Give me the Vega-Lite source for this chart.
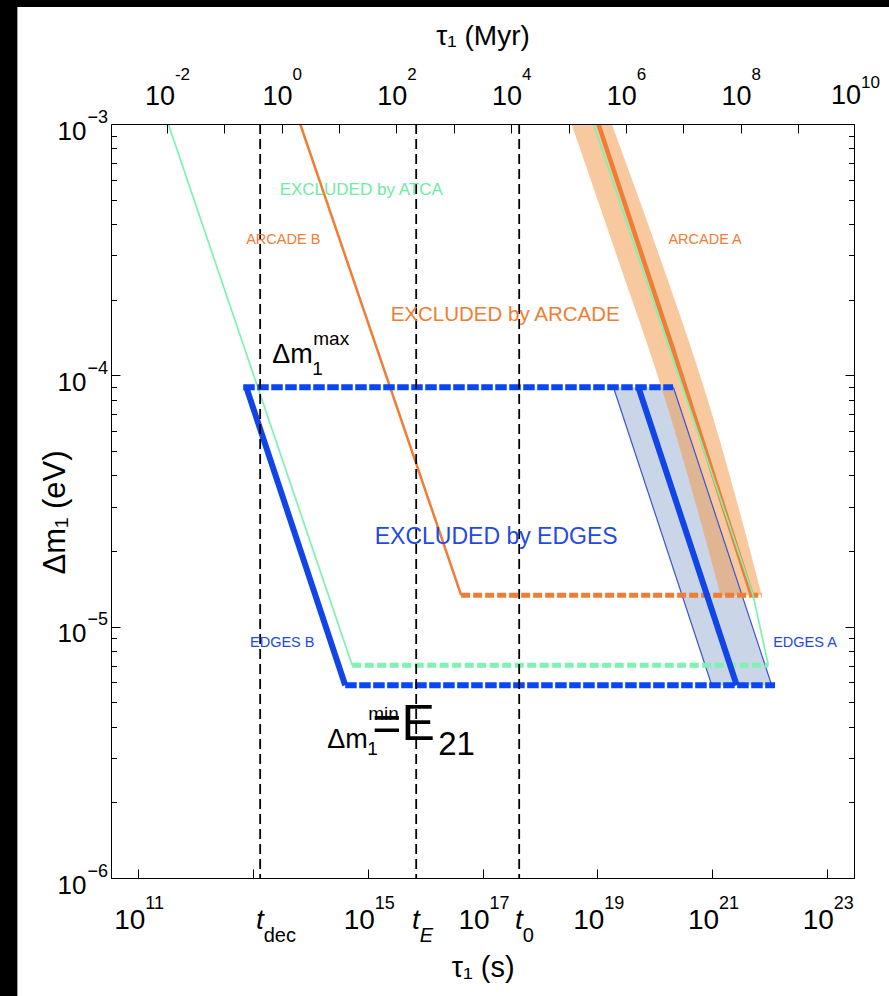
{
  "$schema": "https://vega.github.io/schema/vega-lite/v6.json",
  "width": 743,
  "height": 754,
  "autosize": {"type": "none"},
  "padding": {"left": 111, "top": 124, "right": 35, "bottom": 118},
  "background": "black",
  "config": {
    "view": {"stroke": null},
    "font": "Liberation Sans",
    "axis": {"grid": false, "zindex": 1, "labelOverlap": false, "labelFlush": false, "labelBound": false, "domainColor": "black", "tickColor": "black", "labelColor": "black", "titleColor": "black", "titleFontWeight": "normal", "tickWidth": 1, "domainWidth": 1, "labelFont": "Liberation Sans", "titleFont": "Liberation Sans"}
  },
  "datasets": {
    "solidBlue": [
      {"s": "L", "x": 7.621e12, "y": 8.97e-5}, {"s": "L", "x": 4.036e14, "y": 5.85e-6},
      {"s": "R", "x": 5.2e19, "y": 8.97e-5}, {"s": "R", "x": 2.692e21, "y": 5.85e-6}
    ],
    "dashedBlue": [
      {"s": "top", "x": 6.745e12, "y": 8.97e-5}, {"s": "top", "x": 2.094e20, "y": 8.97e-5},
      {"s": "bot", "x": 4.036e14, "y": 5.85e-6}, {"s": "bot", "x": 1.253e22, "y": 5.85e-6}
    ],
    "dashedOrange": [{"x": 4.236e16, "y": 1.334e-5}, {"x": 7.345e21, "y": 1.334e-5}],
    "dashedGreen": [{"x": 5.346e14, "y": 7.02e-6}, {"x": 9.572e21, "y": 7.02e-6}],
    "orangeLeft": [{"x": 6.637e13, "y": 1e-3}, {"x": 4.236e16, "y": 1.334e-5}],
    "orangeRight": [{"x": 1.045e19, "y": 1e-3}, {"x": 2.118e20, "y": 1.2598e-4}, {"x": 4.92e21, "y": 1.334e-5}],
    "green": [
      {"s": "L", "x": 3.334e11, "y": 1e-3}, {"s": "L", "x": 5.346e14, "y": 7.02e-6},
      {"s": "R", "x": 8.551e18, "y": 1e-3}, {"s": "R", "x": 1.854e20, "y": 1.2598e-4},
      {"s": "R", "x": 5.2e21, "y": 1.334e-5}, {"s": "R", "x": 9.572e21, "y": 7.02e-6}
    ],
    "blueBand": [
      {"y": 8.97e-5, "xl": 1.91e19, "xr": 2.118e20},
      {"y": 5.85e-6, "xl": 9.886e20, "xr": 1.096e22}
    ],
    "bandEdges": [
      {"s": "L", "x": 1.91e19, "y": 8.97e-5}, {"s": "L", "x": 9.886e20, "y": 5.85e-6},
      {"s": "R", "x": 2.118e20, "y": 8.97e-5}, {"s": "R", "x": 1.096e22, "y": 5.85e-6}
    ],
    "orangeBand": [
      {"y": 1.05e-3, "xl": 3.3e18, "xr": 1.65e19},
      {"y": 3.15e-4, "xl": 2.018e19, "xr": 1.109e20},
      {"y": 9.31e-5, "xl": 1.242e20, "xr": 6.823e20},
      {"y": 1.334e-5, "xl": 1.406e21, "xr": 7.345e21}
    ],
    "epochs": [{"x": 1.33e13}, {"x": 6.97e15}, {"x": 4.35e17}],
    "topEnd": [{"t": "10", "e": "10", "x": 3.1557e23}],
    "labels": [
      {"t": "EXCLUDED by ATCA", "x": 7.67e14, "y": 5.46e-4, "g": "green", "k": "atca"},
      {"t": "ARCADE B", "x": 3.357e13, "y": 3.451e-4, "g": "orange", "k": "small"},
      {"t": "ARCADE A", "x": 7.551e20, "y": 3.451e-4, "g": "orange", "k": "small"},
      {"t": "EXCLUDED by ARCADE", "x": 2.477e17, "y": 1.738e-4, "g": "orange", "k": "big"},
      {"t": "EXCLUDED by EDGES", "x": 1.726e17, "y": 2.27e-5, "g": "blue", "k": "edges"},
      {"t": "EDGES B", "x": 3.228e13, "y": 8.59e-6, "g": "blue", "k": "small"},
      {"t": "EDGES A", "x": 4.169e22, "y": 8.59e-6, "g": "blue", "k": "small"}
    ],
    "math": [
      {"t": "Δm", "x": 2.158e13, "y": 1.119e-4, "k": "base"},
      {"t": "1", "x": 1.074e14, "y": 1.002e-4, "k": "script"},
      {"t": "max", "x": 1.119e14, "y": 1.318e-4, "k": "script"},
      {"t": "Δm", "x": 1.963e14, "y": 3.281e-6, "k": "base"},
      {"t": "1", "x": 9.77e14, "y": 3.078e-6, "k": "script"},
      {"t": "min", "x": 1.017e15, "y": 4.236e-6, "k": "script"},
      {"t": "=E", "x": 1.194e15, "y": 3.532e-6, "k": "E"},
      {"t": "21", "x": 1.683e16, "y": 3.078e-6, "k": "E21"}
    ]
  },
  "resolve": {"axis": {"x": "independent", "y": "independent"}},
  "layer": [
    {
      "data": {"values": [{}]},
      "mark": {"type": "rect", "color": "white"},
      "encoding": {
        "x": {"datum": 7.8e8, "type": "quantitative", "scale": {"type": "log", "domain": [3.342e10, 2.979e23], "nice": false}, "axis": null},
        "x2": {"datum": 1e26},
        "y": {"datum": 2.92e-3, "type": "quantitative", "scale": {"type": "log", "domain": [1e-6, 1e-3], "nice": false}, "axis": null},
        "y2": {"datum": 1e-9}
      }
    },
    {
      "data": {"name": "blueBand"},
      "mark": {"type": "area", "orient": "horizontal", "color": "#5b7fb5", "opacity": 0.32, "clip": true},
      "encoding": {
        "y": {"field": "y", "type": "quantitative", "scale": {"type": "log", "domain": [1e-6, 1e-3], "nice": false},
          "axis": {"orient": "right", "zindex": 1, "values": [2e-6, 3e-6, 4e-6, 5e-6, 6e-6, 7e-6, 8e-6, 9e-6, 2e-5, 3e-5, 4e-5, 5e-5, 6e-5, 7e-5, 8e-5, 9e-5, 2e-4, 3e-4, 4e-4, 5e-4, 6e-4, 7e-4, 8e-4, 9e-4], "tickSize": -5.5, "labels": false, "domain": false, "title": null}},
        "x": {"field": "xl", "type": "quantitative", "scale": {"type": "log", "domain": [3.342e10, 2.979e23], "nice": false},
          "axis": {"orient": "top", "zindex": 1, "values": [3.1557e11, 3.1557e12, 3.1557e13, 3.1557e14, 3.1557e15, 3.1557e16, 3.1557e17, 3.1557e18, 3.1557e19, 3.1557e20, 3.1557e21, 3.1557e22],
            "labelExpr": "(round(log(datum.value)/LN10 - 13.4991) % 2 == 0) ? '10' : ''",
            "tickSize": -9,
            "labelFontSize": 27, "labelAlign": "right", "labelBaseline": "alphabetic", "labelPadding": 29,
            "labelOffset": {"condition": {"test": "datum.value < 1e12", "value": 7.5}, "value": 10.3},
            "domain": true,
            "title": "τ₁ (Myr)", "titleFontSize": 28, "titleY": -88, "titleBaseline": "middle"}},
        "x2": {"field": "xr"}
      }
    },
    {
      "data": {"name": "orangeBand"},
      "mark": {"type": "area", "orient": "horizontal", "interpolate": "monotone", "color": "#f39a4e", "opacity": 0.55, "clip": true},
      "encoding": {
        "y": {"field": "y", "type": "quantitative", "scale": {"type": "log", "domain": [1e-6, 1e-3], "nice": false},
          "axis": {"orient": "right", "zindex": 1, "values": [1e-6, 1e-5, 1e-4, 1e-3], "tickSize": -9, "labels": false, "domain": true, "title": null}},
        "x": {"field": "xl", "type": "quantitative", "scale": {"type": "log", "domain": [3.342e10, 2.979e23], "nice": false},
          "axis": {"orient": "top", "zindex": 1, "values": [3.1557e11, 3.1557e13, 3.1557e15, 3.1557e17, 3.1557e19, 3.1557e21],
            "labelExpr": "'' + round(log(datum.value)/LN10 - 13.4991)",
            "ticks": false, "domain": false,
            "labelFontSize": 17, "labelAlign": "left", "labelBaseline": "alphabetic", "labelPadding": 45,
            "labelOffset": {"condition": {"test": "datum.value < 1e12", "value": 7.5}, "value": 10.3},
            "title": null}},
        "x2": {"field": "xr"}
      }
    },
    {
      "data": {"name": "bandEdges"},
      "mark": {"type": "line", "color": "#3a55d0", "strokeWidth": 1.2, "clip": true},
      "encoding": {
        "detail": {"field": "s"},
        "y": {"field": "y", "type": "quantitative", "scale": {"type": "log", "domain": [1e-6, 1e-3], "nice": false},
          "axis": {"orient": "left", "zindex": 1, "values": [2e-6, 3e-6, 4e-6, 5e-6, 6e-6, 7e-6, 8e-6, 9e-6, 2e-5, 3e-5, 4e-5, 5e-5, 6e-5, 7e-5, 8e-5, 9e-5, 2e-4, 3e-4, 4e-4, 5e-4, 6e-4, 7e-4, 8e-4, 9e-4], "tickSize": -5.5, "labels": false, "domain": false, "title": null}},
        "x": {"field": "x", "type": "quantitative", "scale": {"type": "log", "domain": [3.342e10, 2.979e23], "nice": false},
          "axis": {"orient": "bottom", "zindex": 1, "values": [1.33e13, 6.97e15, 4.35e17],
            "labelExpr": "datum.value < 1e14 ? 'dec' : (datum.value < 1e16 ? 'E' : '0')",
            "ticks": false, "domain": false,
            "labelFontSize": 20, "labelAlign": "left", "labelBaseline": "alphabetic", "labelPadding": 63, "labelOffset": 3,
            "labelFontStyle": {"condition": {"test": "datum.value > 1e15 && datum.value < 1e16", "value": "italic"}, "value": "normal"},
            "title": null}}
      }
    },
    {
      "data": {"name": "dashedOrange"},
      "mark": {"type": "line", "color": "#ef7d35", "strokeWidth": 5, "strokeDash": [9, 3], "clip": true},
      "encoding": {
        "x": {"field": "x", "type": "quantitative", "scale": {"type": "log", "domain": [3.342e10, 2.979e23], "nice": false}, "axis": null},
        "y": {"field": "y", "type": "quantitative", "scale": {"type": "log", "domain": [1e-6, 1e-3], "nice": false}, "axis": null}
      }
    },
    {
      "data": {"name": "dashedGreen"},
      "mark": {"type": "line", "color": "#7ef2b2", "strokeWidth": 5, "strokeDash": [9, 3.5], "clip": true},
      "encoding": {
        "x": {"field": "x", "type": "quantitative", "scale": {"type": "log", "domain": [3.342e10, 2.979e23], "nice": false}, "axis": null},
        "y": {"field": "y", "type": "quantitative", "scale": {"type": "log", "domain": [1e-6, 1e-3], "nice": false}, "axis": null}
      }
    },
    {
      "data": {"name": "orangeLeft"},
      "mark": {"type": "line", "color": "#ef7d35", "strokeWidth": 2.5, "clip": true},
      "encoding": {
        "x": {"field": "x", "type": "quantitative", "scale": {"type": "log", "domain": [3.342e10, 2.979e23], "nice": false}, "axis": null},
        "y": {"field": "y", "type": "quantitative", "scale": {"type": "log", "domain": [1e-6, 1e-3], "nice": false}, "axis": null}
      }
    },
    {
      "data": {"name": "orangeRight"},
      "mark": {"type": "line", "color": "#ef7d35", "strokeWidth": 4.5, "clip": true},
      "encoding": {
        "x": {"field": "x", "type": "quantitative", "scale": {"type": "log", "domain": [3.342e10, 2.979e23], "nice": false}, "axis": null},
        "y": {"field": "y", "type": "quantitative", "scale": {"type": "log", "domain": [1e-6, 1e-3], "nice": false}, "axis": null}
      }
    },
    {
      "data": {"name": "green"},
      "mark": {"type": "line", "color": "#7ef2b2", "strokeWidth": 1.7, "clip": true},
      "encoding": {
        "detail": {"field": "s"},
        "x": {"field": "x", "type": "quantitative", "scale": {"type": "log", "domain": [3.342e10, 2.979e23], "nice": false}, "axis": null},
        "y": {"field": "y", "type": "quantitative", "scale": {"type": "log", "domain": [1e-6, 1e-3], "nice": false}, "axis": null}
      }
    },
    {
      "data": {"name": "solidBlue"},
      "mark": {"type": "line", "color": "#1145e8", "strokeWidth": 6, "clip": true},
      "encoding": {
        "detail": {"field": "s"},
        "x": {"field": "x", "type": "quantitative", "scale": {"type": "log", "domain": [3.342e10, 2.979e23], "nice": false},
          "axis": {"orient": "bottom", "zindex": 1, "values": [1e11, 1e13, 1e15, 1e17, 1e19, 1e21, 1e23, 1.33e13, 6.97e15, 4.35e17],
            "labelExpr": "abs(log(datum.value)/LN10 - round(log(datum.value)/LN10)) < 0.001 ? (round(log(datum.value)/LN10) == 13 ? '' : '10') : 't'",
            "tickSize": -9,
            "tickOpacity": {"condition": {"test": "abs(log(datum.value)/LN10 - round(log(datum.value)/LN10)) >= 0.001", "value": 0}, "value": 1},
            "labelFontSize": 28, "labelAlign": "right", "labelBaseline": "alphabetic", "labelPadding": 59,
            "labelOffset": {"condition": {"test": "abs(log(datum.value)/LN10 - round(log(datum.value)/LN10)) >= 0.001", "value": 3}, "value": 6.5},
            "labelFontStyle": {"condition": {"test": "abs(log(datum.value)/LN10 - round(log(datum.value)/LN10)) >= 0.001", "value": "italic"}, "value": "normal"},
            "domain": true,
            "title": "τ₁ (s)", "titleFontSize": 29, "titleY": 89, "titleBaseline": "middle"}},
        "y": {"field": "y", "type": "quantitative", "scale": {"type": "log", "domain": [1e-6, 1e-3], "nice": false},
          "axis": {"orient": "left", "zindex": 1, "values": [1e-6, 1e-5, 1e-4, 1e-3], "labelExpr": "'10'", "tickSize": -9,
            "labelFontSize": 26, "labelAlign": "right", "labelBaseline": "alphabetic", "labelPadding": 34, "labelOffset": 15,
            "domain": true,
            "title": "Δm₁ (eV)", "titleFontSize": 31, "titleX": -56, "titleY": 388, "titleBaseline": "middle", "titleAngle": -90}}
      }
    },
    {
      "data": {"name": "dashedBlue"},
      "mark": {"type": "line", "color": "#0a46f2", "strokeWidth": 6, "strokeDash": [11.5, 2.5], "clip": true},
      "encoding": {
        "detail": {"field": "s"},
        "x": {"field": "x", "type": "quantitative", "scale": {"type": "log", "domain": [3.342e10, 2.979e23], "nice": false},
          "axis": {"orient": "bottom", "zindex": 1, "values": [1e11, 1e15, 1e17, 1e19, 1e21, 1e23],
            "labelExpr": "'' + round(log(datum.value)/LN10)", "ticks": false, "domain": false,
            "labelFontSize": 18, "labelAlign": "left", "labelBaseline": "alphabetic", "labelPadding": 30, "labelOffset": 6.5,
            "title": null}},
        "y": {"field": "y", "type": "quantitative", "scale": {"type": "log", "domain": [1e-6, 1e-3], "nice": false},
          "axis": {"orient": "left", "zindex": 1, "values": [1e-6, 1e-5, 1e-4, 1e-3], "labelExpr": "'−' + (-round(log(datum.value)/LN10))", "ticks": false, "domain": false,
            "labelFontSize": 18, "labelAlign": "left", "labelBaseline": "alphabetic", "labelPadding": 24, "labelOffset": -2,
            "title": null}}
      }
    },
    {
      "data": {"name": "epochs"},
      "mark": {"type": "rule", "color": "black", "strokeWidth": 1.8, "strokeDash": [10, 5]},
      "encoding": {
        "x": {"field": "x", "type": "quantitative", "scale": {"type": "log", "domain": [3.342e10, 2.979e23], "nice": false}, "axis": null}
      }
    },
    {
      "data": {"name": "topEnd"},
      "mark": {"type": "text", "fontSize": 27, "align": "right", "baseline": "alphabetic", "color": "black", "dx": 5.5, "dy": -20},
      "encoding": {
        "x": {"field": "x", "type": "quantitative", "scale": {"type": "log", "domain": [3.342e10, 2.979e23], "nice": false}, "axis": null},
        "y": {"datum": 1e-3, "type": "quantitative", "scale": {"type": "log", "domain": [1e-6, 1e-3], "nice": false}, "axis": null},
        "text": {"field": "t"}
      }
    },
    {
      "data": {"name": "topEnd"},
      "mark": {"type": "text", "fontSize": 17, "align": "left", "baseline": "alphabetic", "color": "black", "dx": 5.5, "dy": -36},
      "encoding": {
        "x": {"field": "x", "type": "quantitative", "scale": {"type": "log", "domain": [3.342e10, 2.979e23], "nice": false}, "axis": null},
        "y": {"datum": 1e-3, "type": "quantitative", "scale": {"type": "log", "domain": [1e-6, 1e-3], "nice": false}, "axis": null},
        "text": {"field": "e"}
      }
    },
    {
      "data": {"name": "labels"},
      "transform": [{"filter": "datum.k == 'atca'"}],
      "mark": {"type": "text", "fontSize": 17, "align": "center", "baseline": "middle"},
      "encoding": {
        "x": {"field": "x", "type": "quantitative", "scale": {"type": "log", "domain": [3.342e10, 2.979e23], "nice": false}, "axis": null},
        "y": {"field": "y", "type": "quantitative", "scale": {"type": "log", "domain": [1e-6, 1e-3], "nice": false}, "axis": null},
        "text": {"field": "t"},
        "color": {"field": "g", "type": "nominal", "scale": {"domain": ["green", "orange", "blue"], "range": ["#6eeba6", "#ef7d35", "#2449e0"]}, "legend": null}
      }
    },
    {
      "data": {"name": "labels"},
      "transform": [{"filter": "datum.k == 'big'"}],
      "mark": {"type": "text", "fontSize": 20.5, "align": "center", "baseline": "middle"},
      "encoding": {
        "x": {"field": "x", "type": "quantitative", "scale": {"type": "log", "domain": [3.342e10, 2.979e23], "nice": false}, "axis": null},
        "y": {"field": "y", "type": "quantitative", "scale": {"type": "log", "domain": [1e-6, 1e-3], "nice": false}, "axis": null},
        "text": {"field": "t"},
        "color": {"field": "g", "type": "nominal", "scale": {"domain": ["green", "orange", "blue"], "range": ["#6eeba6", "#ef7d35", "#2449e0"]}, "legend": null}
      }
    },
    {
      "data": {"name": "labels"},
      "transform": [{"filter": "datum.k == 'edges'"}],
      "mark": {"type": "text", "fontSize": 23, "align": "center", "baseline": "middle"},
      "encoding": {
        "x": {"field": "x", "type": "quantitative", "scale": {"type": "log", "domain": [3.342e10, 2.979e23], "nice": false}, "axis": null},
        "y": {"field": "y", "type": "quantitative", "scale": {"type": "log", "domain": [1e-6, 1e-3], "nice": false}, "axis": null},
        "text": {"field": "t"},
        "color": {"field": "g", "type": "nominal", "scale": {"domain": ["green", "orange", "blue"], "range": ["#6eeba6", "#ef7d35", "#2449e0"]}, "legend": null}
      }
    },
    {
      "data": {"name": "labels"},
      "transform": [{"filter": "datum.k == 'small'"}],
      "mark": {"type": "text", "fontSize": 14.5, "align": "center", "baseline": "middle"},
      "encoding": {
        "x": {"field": "x", "type": "quantitative", "scale": {"type": "log", "domain": [3.342e10, 2.979e23], "nice": false}, "axis": null},
        "y": {"field": "y", "type": "quantitative", "scale": {"type": "log", "domain": [1e-6, 1e-3], "nice": false}, "axis": null},
        "text": {"field": "t"},
        "color": {"field": "g", "type": "nominal", "scale": {"domain": ["green", "orange", "blue"], "range": ["#6eeba6", "#ef7d35", "#2449e0"]}, "legend": null}
      }
    },
    {
      "data": {"name": "math"},
      "transform": [{"filter": "datum.k == 'base'"}],
      "mark": {"type": "text", "fontSize": 27, "align": "left", "baseline": "alphabetic", "color": "black"},
      "encoding": {
        "x": {"field": "x", "type": "quantitative", "scale": {"type": "log", "domain": [3.342e10, 2.979e23], "nice": false}, "axis": null},
        "y": {"field": "y", "type": "quantitative", "scale": {"type": "log", "domain": [1e-6, 1e-3], "nice": false}, "axis": null},
        "text": {"field": "t"}
      }
    },
    {
      "data": {"name": "math"},
      "transform": [{"filter": "datum.k == 'script'"}],
      "mark": {"type": "text", "fontSize": 19, "align": "left", "baseline": "alphabetic", "color": "black"},
      "encoding": {
        "x": {"field": "x", "type": "quantitative", "scale": {"type": "log", "domain": [3.342e10, 2.979e23], "nice": false}, "axis": null},
        "y": {"field": "y", "type": "quantitative", "scale": {"type": "log", "domain": [1e-6, 1e-3], "nice": false}, "axis": null},
        "text": {"field": "t"}
      }
    },
    {
      "data": {"name": "math"},
      "transform": [{"filter": "datum.k == 'E'"}],
      "mark": {"type": "text", "fontSize": 50, "align": "left", "baseline": "alphabetic", "color": "black"},
      "encoding": {
        "x": {"field": "x", "type": "quantitative", "scale": {"type": "log", "domain": [3.342e10, 2.979e23], "nice": false}, "axis": null},
        "y": {"field": "y", "type": "quantitative", "scale": {"type": "log", "domain": [1e-6, 1e-3], "nice": false}, "axis": null},
        "text": {"field": "t"}
      }
    },
    {
      "data": {"name": "math"},
      "transform": [{"filter": "datum.k == 'E21'"}],
      "mark": {"type": "text", "fontSize": 33, "align": "left", "baseline": "alphabetic", "color": "black"},
      "encoding": {
        "x": {"field": "x", "type": "quantitative", "scale": {"type": "log", "domain": [3.342e10, 2.979e23], "nice": false}, "axis": null},
        "y": {"field": "y", "type": "quantitative", "scale": {"type": "log", "domain": [1e-6, 1e-3], "nice": false}, "axis": null},
        "text": {"field": "t"}
      }
    }
  ]
}
